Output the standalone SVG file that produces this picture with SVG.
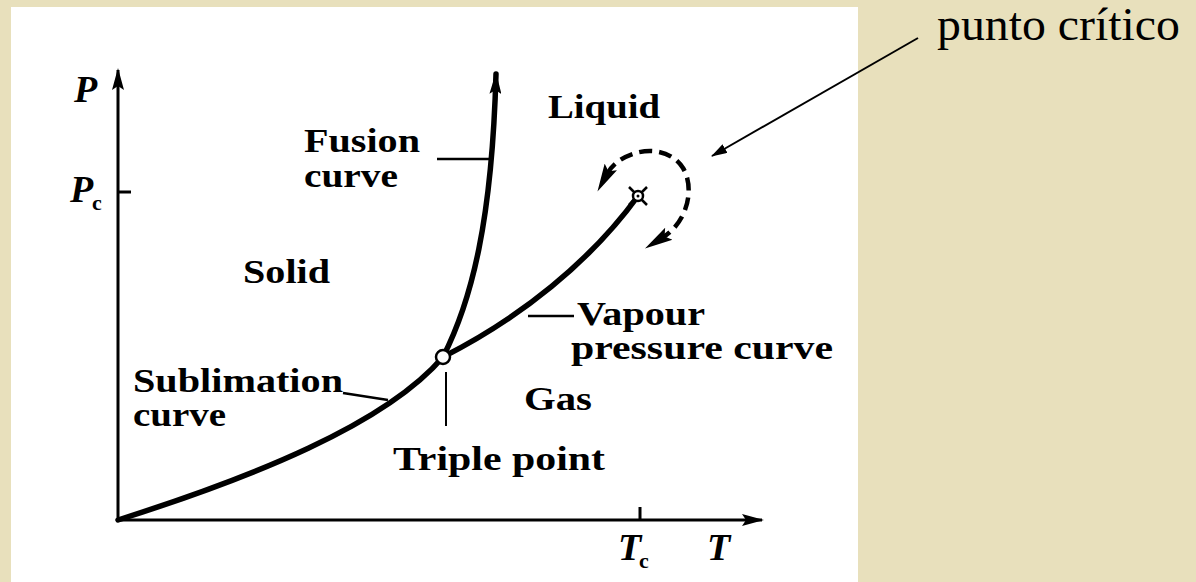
<svg xmlns="http://www.w3.org/2000/svg" width="1196" height="582" viewBox="0 0 1196 582">
<style>
.lbl{font-family:"Liberation Serif","Times New Roman",serif;font-weight:bold;font-size:34px;fill:#000}
.ax{font-family:"Liberation Serif","Times New Roman",serif;font-weight:bold;font-style:italic;font-size:38px;fill:#000}
.sub{font-family:"Liberation Serif","Times New Roman",serif;font-weight:bold;font-size:22px;fill:#000}
.curve{fill:none;stroke:#000;stroke-width:5.5;stroke-linecap:round}
.thin{fill:none;stroke:#000;stroke-width:2.5}
</style>
<defs>
<marker id="ah" viewBox="0 0 22 12" refX="20" refY="6" markerWidth="22" markerHeight="12" markerUnits="userSpaceOnUse" orient="auto-start-reverse">
<path d="M0,0 L22,6 L0,12 L4,6 Z" fill="#000"/>
</marker>
<marker id="ahd" viewBox="0 0 28 16" refX="8" refY="8" markerWidth="28" markerHeight="16" markerUnits="userSpaceOnUse" orient="auto-start-reverse">
<path d="M0,1 L28,8 L0,15 L5,8 Z" fill="#000"/>
</marker>
<marker id="ahs" viewBox="0 0 16 10" refX="15" refY="5" markerWidth="16" markerHeight="10" markerUnits="userSpaceOnUse" orient="auto">
<path d="M0,0 L16,5 L0,10 Z" fill="#000"/>
</marker>
</defs>
<rect width="1196" height="582" fill="#e8e0bc"/>
<rect x="11" y="7" width="847" height="575" fill="#fff"/>

<g id="axes">
<line x1="118" y1="521" x2="118" y2="70" stroke="#000" stroke-width="3" marker-end="url(#ah)"/>
<line x1="116" y1="520" x2="762" y2="520" stroke="#000" stroke-width="3" marker-end="url(#ah)"/>
<line x1="118" y1="192" x2="131" y2="192" stroke="#000" stroke-width="3"/>
<line x1="640" y1="507" x2="640" y2="520" stroke="#000" stroke-width="3"/>
<text class="ax" x="74" y="102">P</text>
<text class="ax" x="70" y="202">P</text><text class="sub" x="92" y="210">c</text>
<text class="ax" x="618" y="560">T</text><text class="sub" x="639" y="568">c</text>
<text class="ax" x="707" y="560">T</text>
</g>

<g id="connectors">
<path class="curve" d="M118,520 C250,478 385,425 443,357"/>
<path class="curve" d="M443,357 C472,300 492,220 496,74" marker-end="url(#ah)"/>
<path class="curve" d="M443,357 C520,318 590,262 638,196"/>
<path d="M607,174 C620,150 665,140 683,168 C695,188 688,222 662,238" fill="none" stroke="#000" stroke-width="4.5" stroke-dasharray="13,7" marker-start="url(#ahd)" marker-end="url(#ahd)"/>
<line x1="918" y1="38" x2="712" y2="156" stroke="#000" stroke-width="2" marker-end="url(#ahs)"/>
<line x1="437" y1="159" x2="489" y2="159" class="thin"/>
<line x1="528" y1="316" x2="574" y2="316" class="thin"/>
<path d="M343,393 L388,400" class="thin"/>
<line x1="446" y1="372" x2="446" y2="426" stroke="#000" stroke-width="2"/>
</g>

<g id="triple-point">
<circle cx="443" cy="357" r="7" fill="#fff" stroke="#000" stroke-width="2.5"/>
</g>

<g id="critical-point">
<path d="M629,187 L647,205 M647,187 L629,205" stroke="#000" stroke-width="2.5"/>
<circle cx="638" cy="196" r="5" fill="#fff" stroke="#000" stroke-width="2.5"/>
<circle cx="638" cy="196" r="1.5" fill="#000"/>
</g>

<g id="labels">
<text class="lbl" x="304" y="152" textLength="116" lengthAdjust="spacingAndGlyphs">Fusion</text>
<text class="lbl" x="304" y="187" textLength="94" lengthAdjust="spacingAndGlyphs">curve</text>
<text class="lbl" x="548" y="118" textLength="112" lengthAdjust="spacingAndGlyphs">Liquid</text>
<text class="lbl" x="243" y="283" textLength="87" lengthAdjust="spacingAndGlyphs">Solid</text>
<text class="lbl" x="577" y="325" textLength="128" lengthAdjust="spacingAndGlyphs">Vapour</text>
<text class="lbl" x="571" y="359" textLength="262" lengthAdjust="spacingAndGlyphs">pressure curve</text>
<text class="lbl" x="133" y="392" textLength="210" lengthAdjust="spacingAndGlyphs">Sublimation</text>
<text class="lbl" x="133" y="426" textLength="93" lengthAdjust="spacingAndGlyphs">curve</text>
<text class="lbl" x="524" y="410" textLength="68" lengthAdjust="spacingAndGlyphs">Gas</text>
<text class="lbl" x="393" y="470" textLength="212" lengthAdjust="spacingAndGlyphs">Triple point</text>
</g>

<g id="callout">
<text x="937" y="40" font-family="'Liberation Serif','Times New Roman',serif" font-size="46" fill="#000" textLength="243" lengthAdjust="spacingAndGlyphs">punto crítico</text>
</g>
</svg>
